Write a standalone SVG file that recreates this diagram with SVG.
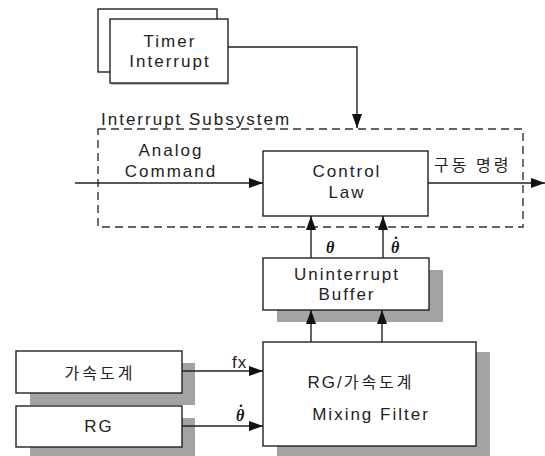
<svg xmlns="http://www.w3.org/2000/svg" width="545" height="456" viewBox="0 0 545 456">
<defs>
<marker id="arr" markerWidth="14" markerHeight="10" refX="14" refY="5" orient="auto" markerUnits="userSpaceOnUse">
<path d="M0,0 L14,5 L0,10 Z" fill="#111"/>
</marker>
</defs>
<style>
.box{fill:#fff;stroke:#222;stroke-width:1.4}
.sh{fill:#a3a3a3}
.t{font-family:"Liberation Sans","Noto Sans CJK KR",sans-serif;font-size:17px;letter-spacing:2px;fill:#222}
.k{font-family:"Noto Sans CJK KR",sans-serif;font-size:16px;letter-spacing:3px;fill:#222}
.m{text-anchor:middle}
.g{font-family:"Liberation Serif",serif;font-size:16px;font-style:italic;font-weight:bold;fill:#111}
.ln{fill:none;stroke:#222;stroke-width:1.4}
</style>
<rect width="545" height="456" fill="#fff"/>

<g id="subsystem">
<rect x="98" y="129" width="425" height="98" fill="none" stroke="#333" stroke-width="1.4" stroke-dasharray="8,5"/>
<text class="t" x="101" y="125">Interrupt Subsystem</text>
</g>

<g id="timer">
<rect class="box" x="98" y="9" width="119" height="63"/>
<rect x="111" y="83" width="118" height="2" fill="#bbb"/>
<rect class="box" x="110" y="19" width="118" height="64"/>
<text class="t m" x="170" y="47">Timer</text>
<text class="t m" x="170" y="67">Interrupt</text>
</g>

<g id="control-law">
<rect class="box" x="263" y="151" width="165" height="65"/>
<text class="t m" x="347" y="177">Control</text>
<text class="t m" x="347" y="198">Law</text>
</g>

<g id="buffer">
<rect class="sh" x="277" y="270" width="166" height="52"/>
<rect class="box" x="263" y="258" width="166" height="52"/>
<text class="t m" x="347" y="280">Uninterrupt</text>
<text class="t m" x="347" y="300">Buffer</text>
</g>

<g id="mixing-filter">
<rect class="sh" x="277" y="352" width="213" height="104"/>
<rect class="box" x="263" y="342" width="213" height="104"/>
<text class="t m" x="361" y="388">RG/<tspan class="k">가속도계</tspan></text>
<text class="t m" x="371" y="420">Mixing Filter</text>
</g>

<g id="accelerometer">
<rect class="sh" x="30" y="363" width="165" height="42"/>
<rect class="box" x="16" y="351" width="166" height="42"/>
<text class="k m" x="100" y="379">가속도계</text>
</g>

<g id="rg">
<rect class="sh" x="30" y="418" width="165" height="38"/>
<rect class="box" x="16" y="406" width="166" height="41"/>
<text class="t m" x="99" y="432">RG</text>
</g>

<g id="connectors">
<path class="ln" d="M228,47 H357 V128" marker-end="url(#arr)"/>
<path class="ln" d="M75,183 H263" marker-end="url(#arr)"/>
<path class="ln" d="M428,183 H545" marker-end="url(#arr)"/>
<path class="ln" d="M311,258 V216" marker-end="url(#arr)"/>
<path class="ln" d="M383,258 V216" marker-end="url(#arr)"/>
<path class="ln" d="M311,342 V310" marker-end="url(#arr)"/>
<path class="ln" d="M382,342 V310" marker-end="url(#arr)"/>
<path class="ln" d="M182,371 H263" marker-end="url(#arr)"/>
<path class="ln" d="M182,426 H263" marker-end="url(#arr)"/>
<text class="t m" x="171" y="156">Analog</text>
<text class="t m" x="171" y="177">Command</text>
<text class="k" x="434" y="171">구동 명령</text>
<text class="g" x="326" y="253">θ</text>
<text class="g" x="391" y="253">θ<tspan dx="-6" dy="-5" font-style="normal">˙</tspan></text>
<text class="t" x="232" y="368" style="letter-spacing:1px">fx</text>
<text class="g" x="236" y="421">θ<tspan dx="-6" dy="-5" font-style="normal">˙</tspan></text>
</g>
</svg>
